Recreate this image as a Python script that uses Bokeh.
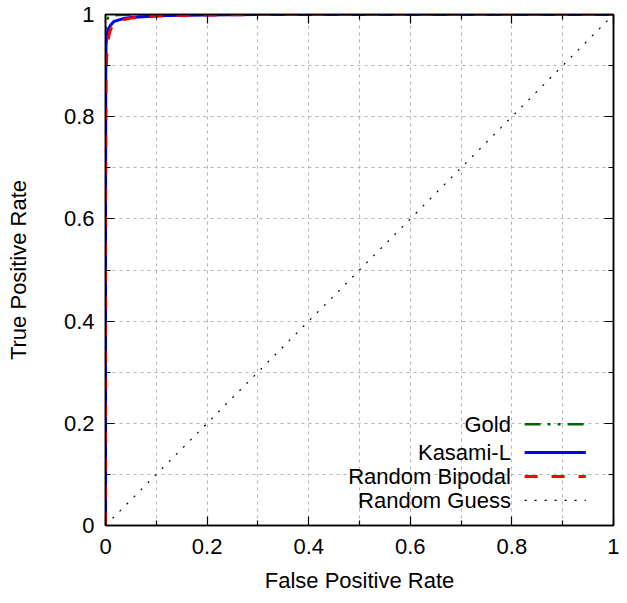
from bokeh.plotting import figure
from bokeh.models import LinearAxis, FixedTicker, Range1d, CustomLabelingPolicy
from bokeh.core.properties import value
from bokeh.embed import file_html
from bokeh.resources import INLINE

# ---- data ----
SERIES_NAMES = ["Gold", "Kasami-L", "Random Bipodal", "Random Guess"]

gold_fpr = [0, 0, 0.0005, 0.001, 0.003, 0.006, 0.012, 0.025, 0.05, 1]
gold_tpr = [0, 0.6, 0.96, 0.98, 0.99, 0.995, 0.998, 0.999, 1, 1]

kasami_fpr = [0, 0, 0.0005, 0.001, 0.0025, 0.004, 0.006, 0.01, 0.016, 0.025,
              0.035, 0.05, 0.08, 0.12, 0.2, 0.3, 1]
kasami_tpr = [0, 0.6, 0.88, 0.94, 0.96, 0.966, 0.972, 0.979, 0.986, 0.989,
              0.992, 0.994, 0.996, 0.998, 0.999, 1, 1]

bipodal_fpr = [0, 0, 0.001, 0.002, 0.003, 0.005, 0.008, 0.012, 0.02, 0.03,
               0.05, 0.08, 0.12, 0.2, 0.3, 1]
bipodal_tpr = [0, 0.6, 0.86, 0.91, 0.93, 0.95, 0.965, 0.975, 0.984, 0.989,
               0.993, 0.996, 0.998, 0.999, 1, 1]

guess_fpr = [0, 1]
guess_tpr = [0, 1]

MAJOR_TICKS = [0.0, 0.2, 0.4, 0.6, 0.8, 1.0]
TICK_LABELS = ["0", "0.2", "0.4", "0.6", "0.8", "1"]
MINOR_TICKS = [0.1, 0.3, 0.5, 0.7, 0.9]
GRID_TICKS = [0.1, 0.2, 0.3, 0.4, 0.5, 0.6, 0.7, 0.8, 0.9]

FONT = "Liberation Sans"
FS = "22px"

p = figure(width=619, height=595, x_range=Range1d(0, 1), y_range=Range1d(0, 1),
           output_backend="svg", toolbar_location=None,
           min_border_left=105, min_border_right=6, min_border_top=14,
           min_border_bottom=40, background_fill_color="white",
           border_fill_color="white")
p.outline_line_color = "black"
p.outline_line_width = 1.5

overrides = {t: l for t, l in zip(MAJOR_TICKS, TICK_LABELS)}


def style_axis(ax, show_labels):
    ax.ticker = FixedTicker(ticks=MAJOR_TICKS, minor_ticks=MINOR_TICKS)
    ax.axis_line_color = "black"
    ax.axis_line_width = 1.5
    ax.major_tick_in = 9
    ax.major_tick_out = 0
    ax.minor_tick_in = 5
    ax.minor_tick_out = 0
    ax.major_tick_line_color = "black"
    ax.minor_tick_line_color = "black"
    ax.major_tick_line_width = 1.2
    ax.minor_tick_line_width = 1.2
    if show_labels:
        ax.major_label_overrides = overrides
        ax.major_label_text_font = FONT
        ax.major_label_text_font_size = FS
        ax.major_label_text_color = "black"
        ax.axis_label_text_font = FONT
        ax.axis_label_text_font_size = FS
        ax.axis_label_text_font_style = "normal"
        ax.axis_label_text_color = "black"
    else:
        ax.major_label_policy = CustomLabelingPolicy(code="return new Set()")
        ax.major_label_text_font_size = "1px"
        ax.major_label_standoff = 0


style_axis(p.xaxis[0], True)
style_axis(p.yaxis[0], True)
p.xaxis.axis_label = "False Positive Rate"
p.yaxis.axis_label = "True Positive Rate"
p.xaxis.major_label_standoff = 13
p.xaxis.axis_label_standoff = 11
p.yaxis.major_label_standoff = 11
p.yaxis.axis_label_standoff = 30

top_ax = LinearAxis()
right_ax = LinearAxis()
style_axis(top_ax, False)
style_axis(right_ax, False)
p.add_layout(top_ax, "above")
p.add_layout(right_ax, "right")

for g in (p.xgrid[0], p.ygrid[0]):
    g.ticker = FixedTicker(ticks=GRID_TICKS)
    g.grid_line_color = "#b4b4b4"
    g.grid_line_dash = "3 4"
    g.grid_line_width = 1

# ---- curves ----
styles = [
    dict(color="#006400", dash="16 7 3 7 3 7", width=2.5),
    dict(color="#0000ff", dash="solid", width=3),
    dict(color="#ff0000", dash="13 14", width=3),
    dict(color="black", dash="2 8", width=1.2),
]
series = [(gold_fpr, gold_tpr), (kasami_fpr, kasami_tpr),
          (bipodal_fpr, bipodal_tpr), (guess_fpr, guess_tpr)]

for (xs, ys), st in zip(series, styles):
    p.line(xs, ys, line_color=st["color"], line_dash=st["dash"],
           line_width=st["width"], line_join="round")

# ---- legend (gnuplot style: label on the left, sample on the right) ----
LEG_TEXT_X = 0.798
LEG_X0 = 0.825
LEG_X1 = 0.9455
LEG_Y = [0.198, 0.143, 0.096, 0.049]

p.text(x=[LEG_TEXT_X] * len(SERIES_NAMES), y=LEG_Y, text=SERIES_NAMES,
       text_align="right", text_baseline="middle",
       text_font=value(FONT), text_font_size=FS, text_color="black")
for yy, st in zip(LEG_Y, styles):
    p.line([LEG_X0, LEG_X1], [yy, yy], line_color=st["color"],
           line_dash=st["dash"], line_width=st["width"])

open("out.html", "w").write(file_html(p, INLINE))
